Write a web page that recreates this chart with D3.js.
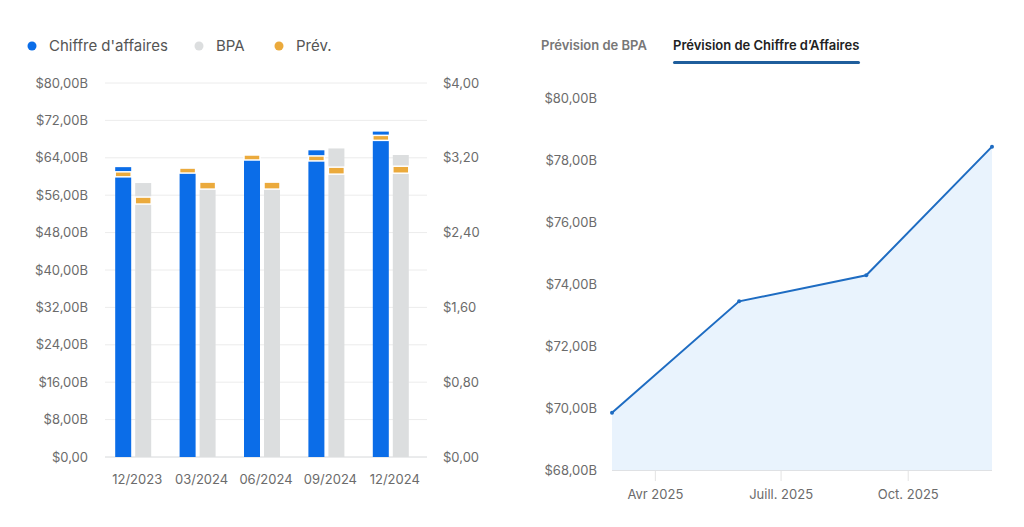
<!DOCTYPE html>
<html>
<head>
<meta charset="utf-8">
<script src="https://cdn.jsdelivr.net/npm/d3@7"></script>
<style>
body {margin:0; background:#fff;}
svg text {font-family: Inter, "Noto Sans", sans-serif;}
.axis .domain {display:none;}
.axis text {fill:#6b6b6b; font-size:13px;}
</style>
</head>
<body>
<svg width="1024" height="527"></svg>
<script>
// left chart data
var periods = ["12/2023", "03/2024", "06/2024", "09/2024", "12/2024"];
var revenue = [62.0, 61.8, 64.6, 65.6, 69.6];
var revenueEst = [61.0, 61.8, 64.6, 64.4, 68.8];
var eps = [2.93, 2.94, 2.94, 3.30, 3.23];
var epsEst = [2.78, 2.94, 2.94, 3.10, 3.11];
var revTicks = [0, 8, 16, 24, 32, 40, 48, 56, 64, 72, 80];
var epsTicks = [0, 0.8, 1.6, 2.4, 3.2, 4.0];

// right chart data
var fcDates = ["2025-03-01", "2025-06-01", "2025-09-01", "2025-12-01"];
var fcRevenue = [69.85, 73.44, 74.28, 78.43];
var fcTicks = [68, 70, 72, 74, 76, 78, 80];
var fcDateTicks = ["2025-04-01", "2025-07-01", "2025-10-01"];
var fcDateLabels = ["Avr 2025", "Juill. 2025", "Oct. 2025"];

var blue = "#0b6de8", grey = "#dcdedf", orange = "#ebaa3c";
var svg = d3.select("svg");
var fr = d => d.toFixed(2).replace(".", ",");

// ---------- legend ----------
var legend = [["Chiffre d'affaires", blue, 32], ["BPA", grey, 199], ["Prév.", orange, 279]];
legend.forEach(function(l) {
  svg.append("circle").attr("cx", l[2]).attr("cy", 46).attr("r", 4.5).attr("fill", l[1]);
  svg.append("text").attr("x", l[2] + 17).attr("y", 51).text(l[0])
    .attr("font-size", 15).attr("fill", "#555");
});

// ---------- left chart ----------
var x = d3.scaleBand().domain(periods).range([105, 427]);
var y = d3.scaleLinear().domain([0, 80]).range([457, 83]);
var y2 = d3.scaleLinear().domain([0, 4]).range([457, 83]);

svg.append("g").selectAll("line").data(revTicks).enter().append("line")
  .attr("x1", 105).attr("x2", 427)
  .attr("y1", d => y(d)).attr("y2", d => y(d))
  .attr("stroke", d => d === 0 ? "#d6d8da" : "#ececec");

svg.append("g").attr("class", "axis").attr("transform", "translate(105,0)")
  .call(d3.axisLeft(y).tickValues(revTicks).tickSize(0).tickPadding(17)
    .tickFormat(d => "$" + fr(d) + (d === 0 ? "" : "B")));
svg.append("g").attr("class", "axis").attr("transform", "translate(427,0)")
  .call(d3.axisRight(y2).tickValues(epsTicks).tickSize(0).tickPadding(16)
    .tickFormat(d => "$" + fr(d)));
svg.append("g").attr("class", "axis").attr("transform", "translate(0,457)")
  .call(d3.axisBottom(x).tickSize(0).tickPadding(18));

var cx = d => x(d) + x.bandwidth() / 2;
var bars = svg.append("g");
periods.forEach(function(p, i) {
  var c = cx(p);
  // revenue bar
  bars.append("rect").attr("x", c - 22).attr("width", 16)
    .attr("y", y(revenue[i])).attr("height", 457 - y(revenue[i])).attr("fill", blue);
  bars.append("rect").attr("x", c - 22).attr("width", 16)
    .attr("y", y(revenueEst[i])).attr("height", 5)
    .attr("fill", orange).attr("stroke", "#fff").attr("stroke-width", 1.5);
  // EPS bar
  bars.append("rect").attr("x", c - 2).attr("width", 16)
    .attr("y", y2(eps[i])).attr("height", 457 - y2(eps[i])).attr("fill", grey);
  bars.append("rect").attr("x", c - 2).attr("width", 16)
    .attr("y", y2(epsEst[i])).attr("height", 7)
    .attr("fill", orange).attr("stroke", "#fff").attr("stroke-width", 1.5);
});

// ---------- right panel tabs ----------
svg.append("text").attr("x", 541).attr("y", 50).text("Prévision de BPA")
  .attr("font-size", 13).attr("font-weight", 600).attr("fill", "#777");
svg.append("text").attr("x", 673).attr("y", 50).text("Prévision de Chiffre d’Affaires")
  .attr("font-size", 13).attr("font-weight", 600).attr("fill", "#222");
svg.append("rect").attr("x", 673).attr("y", 61).attr("width", 187).attr("height", 3)
  .attr("rx", 1.5).attr("fill", "#1f5e9c");

// ---------- right chart ----------
var parse = d3.timeParse("%Y-%m-%d");
var dates = fcDates.map(parse);
var tx = d3.scaleTime().domain([dates[0], dates[dates.length - 1]]).range([612, 992]);
var ty = d3.scaleLinear().domain([68, 80]).range([470, 98]);
var pts = dates.map((d, i) => [d, fcRevenue[i]]);

svg.append("path").datum(pts)
  .attr("d", d3.area().x(d => tx(d[0])).y0(470).y1(d => ty(d[1])))
  .attr("fill", "#e9f3fd");
svg.append("line").attr("x1", 612).attr("x2", 992).attr("y1", 470.5).attr("y2", 470.5)
  .attr("stroke", "#dfe1e4");
svg.append("path").datum(pts)
  .attr("d", d3.line().x(d => tx(d[0])).y(d => ty(d[1])))
  .attr("fill", "none").attr("stroke", "#1e6cc2").attr("stroke-width", 2);
svg.append("g").selectAll("circle").data(pts).enter().append("circle")
  .attr("cx", d => tx(d[0])).attr("cy", d => ty(d[1])).attr("r", 2)
  .attr("fill", "#1e6cc2");

svg.append("g").attr("class", "axis").attr("transform", "translate(612,0)")
  .call(d3.axisLeft(ty).tickValues(fcTicks).tickSize(0).tickPadding(15)
    .tickFormat(d => "$" + fr(d) + "B"));
var xa = svg.append("g").attr("class", "axis").attr("transform", "translate(0,471)")
  .call(d3.axisBottom(tx).tickValues(fcDateTicks.map(parse)).tickSize(10).tickPadding(9)
    .tickFormat((d, i) => fcDateLabels[i]));
xa.selectAll(".tick line").attr("stroke", "#e3e3e3");
</script>
</body>
</html>
